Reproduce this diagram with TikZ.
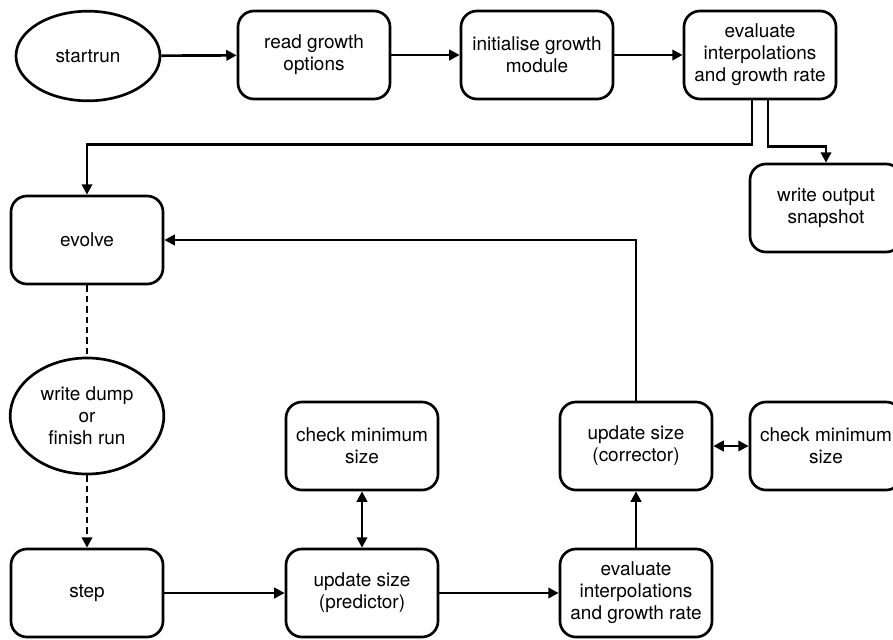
\documentclass[tikz,border=0pt]{standalone}
\usepackage{fontspec}
\setmainfont{TeX Gyre Heros}
\usetikzlibrary{arrows.meta, shapes.geometric}

\begin{document}
\begin{tikzpicture}[
    x=0.025cm, y=0.025cm,
    >={Triangle[length=2.6mm, width=2.6mm]},
    every node/.style={font=\fontsize{13.5}{15.6}\selectfont, align=center},
    block/.style={draw, rounded corners=4mm, line width=1.9pt,
                  minimum width=3.8cm, minimum height=2.2cm, inner sep=2pt},
    oval/.style={ellipse, draw, line width=1.9pt, inner sep=0pt},
    flow/.style={->, line width=1.9pt},
    both/.style={<->, line width=1.9pt},
    loose/.style={line width=1.9pt, dash pattern=on 1.6mm off 1mm},
  ]

  % Frame
  \useasboundingbox (0,0) rectangle (893,-639);
  \clip (0,0) rectangle (893,-639);

  % --- Start row ---
  \node[oval, minimum width=3.6cm, minimum height=2.24cm] (startrun) at (88,-56) {startrun};
  \node[block] (readopts)   at (314,-55) {read growth\\options};
  \node[block] (initgrowth) at (537,-55) {initialise growth\\module};
  \node[block] (evalupper)  at (760,-55) {evaluate\\interpolations\\and growth rate};
  \node[block] (snapshot)   at (826,-208) {write output\\snapshot};

  % --- Main loop (left column) ---
  \node[block] (evolve)   at (87,-240) {evolve};
  \node[oval, minimum width=3.84cm, minimum height=2.9cm] (dumpfin) at (87,-416) {write dump\\or\\finish run};
  \node[block] (stepnode) at (87,-593) {step};

  % --- Size update ---
  \node[block] (checkpred) at (362,-446) {check minimum\\size};
  \node[block] (predictor) at (362,-593) {update size\\(predictor)};
  \node[block] (evallower) at (636,-593) {evaluate\\interpolations\\and growth rate};
  \node[block] (corrector) at (636,-446) {update size\\(corrector)};
  \node[block] (checkcorr) at (826,-446) {check minimum\\size};

  % --- Connectors ---
  \draw[flow] (startrun) -- (readopts);
  \draw[flow] (readopts) -- (initgrowth);
  \draw[flow] (initgrowth) -- (evalupper);
  \draw[flow] ([xshift=-0.2cm]evalupper.south) -- ++(0,-44) -| (evolve.north);
  \draw[flow] ([xshift=0.2cm]evalupper.south) -- ++(0,-46) -| (snapshot.north);

  \draw[loose] (evolve) -- (dumpfin);
  \draw[loose, ->] (dumpfin) -- (stepnode);

  \draw[flow] (stepnode) -- (predictor);
  \draw[both] (checkpred) -- (predictor);
  \draw[flow] (predictor) -- (evallower);
  \draw[flow] (evallower) -- (corrector);
  \draw[both] (corrector) -- (checkcorr);
  \draw[flow] (corrector.north) |- (evolve.east);

\end{tikzpicture}
\end{document}
